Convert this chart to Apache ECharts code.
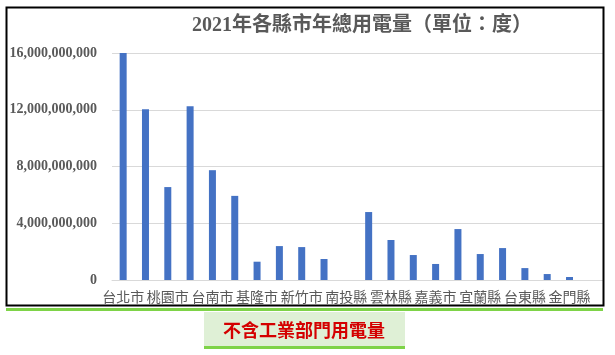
<!DOCTYPE html>
<html>
<head>
<meta charset="utf-8">
<script src="https://cdn.jsdelivr.net/npm/echarts@6/dist/echarts.min.js"></script>
<style>
  html, body { margin: 0; padding: 0; background: #fff; }
  #main { width: 615px; height: 355px; }
</style>
</head>
<body>
<div id="main"></div>
<script>
// 縣市（只顯示偶數位置的標籤）
var counties = ['台北市', '新北市', '桃園市', '台中市', '台南市', '高雄市', '基隆市', '新竹縣',
  '新竹市', '苗栗縣', '南投縣', '彰化縣', '雲林縣', '嘉義縣', '嘉義市', '屏東縣',
  '宜蘭縣', '花蓮縣', '台東縣', '澎湖縣', '金門縣', '連江縣'];
// 年總用電量（度）
var usage = [16.0e9, 12.04e9, 6.55e9, 12.25e9, 7.74e9, 5.93e9, 1.29e9, 2.39e9,
  2.32e9, 1.48e9, 0, 4.79e9, 2.82e9, 1.76e9, 1.13e9, 3.59e9,
  1.83e9, 2.25e9, 0.84e9, 0.42e9, 0.21e9, 0];
var yTicks = [0, 4e9, 8e9, 12e9, 16e9];

var chart = echarts.init(document.getElementById('main'));
var serif = '"Liberation Serif", "Noto Sans CJK TC", serif';

var option = {
  backgroundColor: '#fff',
  animation: false,
  title: {
    text: '2021年各縣市年總用電量（單位：度）',
    left: 357,
    top: 11,
    textAlign: 'center',
    textStyle: { fontFamily: serif, fontSize: 20, fontWeight: 'bold', color: '#595959' }
  },
  grid: { left: 112, right: 12, top: 53, bottom: 75 },
  xAxis: {
    type: 'category',
    data: counties,
    axisTick: { show: false },
    axisLine: { lineStyle: { color: '#d9d9d9', width: 1 } },
    axisLabel: {
      interval: 1,
      margin: 10,
      fontFamily: '"Noto Sans CJK TC", sans-serif',
      fontSize: 14,
      color: '#595959'
    }
  },
  yAxis: {
    type: 'value',
    min: yTicks[0],
    max: yTicks[yTicks.length - 1],
    interval: yTicks[1] - yTicks[0],
    axisLine: { show: false },
    axisTick: { show: false },
    splitLine: { lineStyle: { color: '#d9d9d9', width: 1 } },
    axisLabel: {
      margin: 15,
      fontFamily: serif,
      fontSize: 14,
      fontWeight: 'bold',
      color: '#595959',
      formatter: function (v) { return v.toLocaleString('en-US'); }
    }
  },
  series: [{
    type: 'bar',
    data: usage,
    barWidth: 7,
    itemStyle: { color: '#4472c4' }
  }],
  graphic: [
    // 外框
    { type: 'rect', shape: { x: 6.5, y: 7.5, width: 597, height: 298 },
      style: { fill: null, stroke: '#000', lineWidth: 2 }, z: 100 },
    // 綠色底線
    { type: 'rect', shape: { x: 6, y: 308, width: 597, height: 3 },
      style: { fill: '#7ed348' }, z: 100 },
    // 說明框
    { type: 'rect', shape: { x: 204, y: 312, width: 201, height: 34 },
      style: { fill: '#dff0d6' }, z: 100 },
    { type: 'rect', shape: { x: 204, y: 346, width: 201, height: 3 },
      style: { fill: '#7ed348' }, z: 100 },
    { type: 'text', x: 304, y: 330, z: 101,
      style: { text: '不含工業部門用電量', fill: '#d40000', fontSize: 18, fontWeight: 'bold',
        fontFamily: '"Noto Sans CJK TC", sans-serif', align: 'center', verticalAlign: 'middle' } }
  ]
};
chart.setOption(option);
</script>
</body>
</html>
